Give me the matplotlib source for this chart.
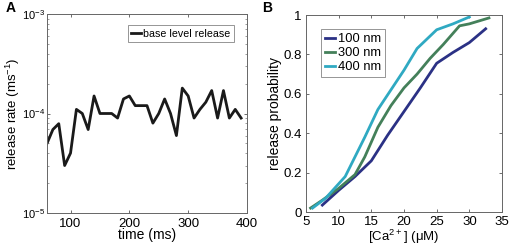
import numpy as np
import matplotlib
matplotlib.use('Agg')
import matplotlib.pyplot as plt

# panel A: base level release rate
t_ms = [60, 70, 80, 90, 100, 110, 120, 130, 140, 150, 160, 170, 180, 190, 200,
        210, 220, 230, 240, 250, 260, 270, 280, 290, 300, 310, 320, 330, 340,
        350, 360, 370, 380, 390]
rate = [5.0e-5, 6.9e-5, 7.9e-5, 3.0e-5, 4.0e-5, 1.1e-4, 1.0e-4, 6.9e-5, 1.5e-4,
        1.0e-4, 1.0e-4, 1.0e-4, 9.0e-5, 1.4e-4, 1.5e-4, 1.2e-4, 1.2e-4, 1.2e-4,
        8.0e-5, 1.0e-4, 1.4e-4, 1.0e-4, 6.0e-5, 1.8e-4, 1.5e-4, 9.0e-5, 1.1e-4,
        1.3e-4, 1.7e-4, 9.0e-5, 1.7e-4, 9.0e-5, 1.1e-4, 9.0e-5]

# panel B: release probability vs [Ca2+]
ca_100 = [7.5, 10, 12.5, 15, 17.5, 20, 22.5, 25, 27.5, 30, 32.5]
p_100 = [0.035, 0.11, 0.18, 0.26, 0.39, 0.51, 0.63, 0.755, 0.81, 0.86, 0.93]
ca_300 = [5.7, 7.5, 10, 12.5, 14, 16, 18, 20, 22, 24, 26, 28.5, 30, 33]
p_300 = [0.02, 0.06, 0.12, 0.19, 0.28, 0.43, 0.54, 0.63, 0.70, 0.78, 0.85, 0.945, 0.955, 0.985]
ca_400 = [6, 8, 11, 12.5, 14, 16, 18, 20, 22, 25, 27.5, 30]
p_400 = [0.02, 0.07, 0.18, 0.28, 0.38, 0.52, 0.62, 0.72, 0.83, 0.925, 0.955, 0.99]

plt.rcParams['font.family'] = ['Liberation Sans', 'DejaVu Sans']
plt.rcParams['mathtext.fontset'] = 'custom'
plt.rcParams['mathtext.rm'] = 'Liberation Sans'

fig = plt.figure(figsize=(5.12, 2.47), dpi=100)
W, H = 512, 247

def style(ax, ypad, xpad=3.5):
    ax.tick_params(direction='in', top=True, right=True, labelsize=9.5,
                   length=2.5, width=0.6, color='#555555')
    ax.tick_params(axis='x', pad=xpad)
    ax.tick_params(axis='y', pad=ypad)
    ax.tick_params(which='minor', direction='in', top=True, right=True,
                   length=1.5, width=0.5, color='#777777')
    for s in ax.spines.values():
        s.set_color('#666666')
        s.set_linewidth(0.7)

axA = fig.add_axes([47 / W, 1 - 213 / H, 200 / W, 199 / H])
axA.plot(t_ms, rate, color='#1a1a1a', lw=2.0, label='base level release')
axA.set_yscale('log')
axA.set_xlim(60, 400)
axA.set_ylim(1e-5, 1e-3)
axA.set_xticks([100, 200, 300, 400])
axA.set_xlabel('time (ms)', fontsize=10, labelpad=-1)
axA.set_ylabel('release rate (ms$^{-1}$)', fontsize=9.5, labelpad=0)
style(axA, 1.5)
axA.tick_params(axis='y', labelsize=8)
legA = axA.legend(loc='upper right', fontsize=7.7, frameon=True, fancybox=False,
                  handlelength=0.9, handletextpad=0.2, borderpad=0.3,
                  bbox_to_anchor=(0.96, 0.97))
legA.get_frame().set_edgecolor('#666666')
legA.get_frame().set_linewidth(0.6)

axB = fig.add_axes([306 / W, 1 - 212 / H, 196 / W, 197 / H])
axB.plot(ca_100, p_100, color='#2b3185', lw=2.0, label='100 nm')
axB.plot(ca_300, p_300, color='#44805a', lw=2.0, label='300 nm')
axB.plot(ca_400, p_400, color='#2fa9c2', lw=2.0, label='400 nm')
axB.set_xlim(5, 35)
axB.set_ylim(0, 1)
axB.set_xticks([5, 10, 15, 20, 25, 30, 35])
axB.set_yticks([0, 0.2, 0.4, 0.6, 0.8, 1])
axB.set_yticklabels(['0', '0.2', '0.4', '0.6', '0.8', '1'])
axB.set_xlabel('[Ca$^{2+}$] (\u03bcM)', fontsize=9.5, labelpad=-0.5)
axB.set_ylabel('release probability', fontsize=10, labelpad=1)
style(axB, 3, xpad=3)
legB = axB.legend(loc='upper left', fontsize=9.3, frameon=True, fancybox=False,
                  handlelength=0.8, handletextpad=0.2, borderpad=0.3,
                  labelspacing=0.15, bbox_to_anchor=(0.045, 0.96))
legB.get_frame().set_edgecolor('#666666')
legB.get_frame().set_linewidth(0.6)

fig.text(6 / W, 1 - 12 / H, 'A', fontsize=10, fontweight='bold')
fig.text(262 / W, 1 - 12 / H, 'B', fontsize=10, fontweight='bold')

fig.savefig('out.png', dpi=100)
